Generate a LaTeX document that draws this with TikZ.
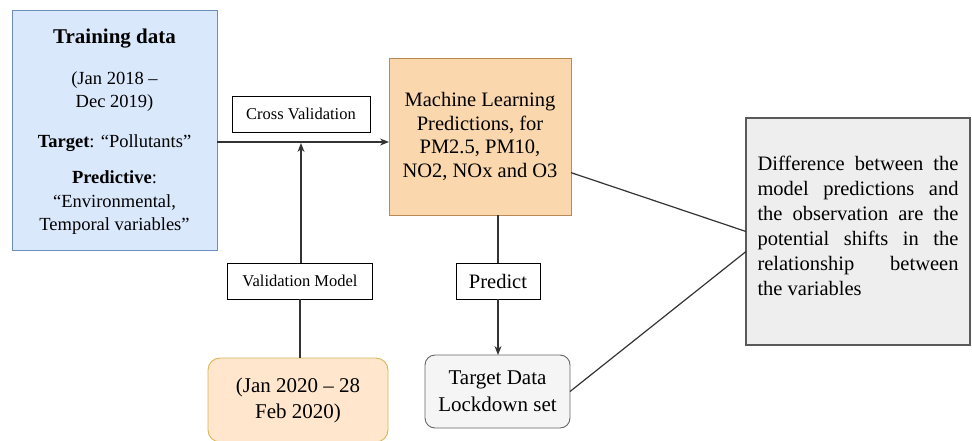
\documentclass[tikz,border=0pt]{standalone}
\usepackage{fontspec}
\setmainfont{Liberation Serif}
\usetikzlibrary{arrows.meta,calc}
\definecolor{trainfill}{HTML}{DAE8FC}
\definecolor{traindraw}{HTML}{6C8EBF}
\definecolor{mlfill}{HTML}{FAD7AC}
\definecolor{mldraw}{HTML}{B98A55}
\definecolor{datefill}{HTML}{FFE6CC}
\definecolor{datedraw}{HTML}{D6B656}
\definecolor{tgtfill}{HTML}{F5F5F5}
\definecolor{tgtdraw}{HTML}{666666}
\definecolor{resfill}{HTML}{EEEEEE}
\definecolor{resdraw}{HTML}{5A5A5A}
\definecolor{linec}{HTML}{333333}
\begin{document}
\begin{tikzpicture}[x=1pt,y=-1pt,
  base/.style={inner sep=0pt, outer sep=0pt, align=center},
  trainbox/.style={base, draw=traindraw, fill=trainfill, line width=0.9pt, minimum width=205pt, minimum height=240pt},
  mlbox/.style={base, draw=mldraw, fill=mlfill, line width=0.9pt, minimum width=182pt, minimum height=157pt},
  datebox/.style={base, draw=datedraw, fill=datefill, line width=0.9pt, rounded corners=12pt, minimum width=180pt, minimum height=84pt},
  tgtbox/.style={base, draw=tgtdraw, fill=tgtfill, line width=0.9pt, rounded corners=10pt, minimum width=145pt, minimum height=73pt},
  resbox/.style={base, draw=resdraw, fill=resfill, line width=1.3pt, minimum width=224pt, minimum height=227pt},
  lblbox/.style={base, draw=black, fill=white, line width=0.8pt, minimum height=36pt},
  conn/.style={draw=linec, line width=1.2pt},
  arr/.style={conn, -{Stealth[length=9pt,width=7pt]}}
]
\useasboundingbox (0,0) rectangle (972,440);

% boxes
\node[trainbox] (train) at (114.5,130) {};
\node[base, font=\fontsize{18.5}{23.5}\selectfont] (traintext) at (114.5,132) {%
  {\fontsize{21}{23.5}\selectfont\bfseries Training data}\\[17pt]
  (Jan 2018 --\\
  Dec 2019)\\[16pt]
  \textbf{Target}: ``Pollutants''\\[13pt]
  \textbf{Predictive}:\\
  ``Environmental,\\
  Temporal variables''};

\node[mlbox, font=\fontsize{20.5}{23.5}\selectfont] (ml) at (480,136.5)
  {Machine Learning\\Predictions, for\\PM2.5, PM10,\\NO2, NOx and O3};

\node[lblbox, minimum width=138pt, font=\fontsize{16.5}{20}\selectfont] (cv) at (301,114) {Cross Validation};
\node[lblbox, minimum width=145pt, font=\fontsize{16.5}{20}\selectfont] (vm) at (300,281) {Validation Model};
\node[datebox, font=\fontsize{21}{26}\selectfont] (date) at (298,400) {(Jan 2020 -- 28\\Feb 2020)};

\node[lblbox, minimum width=84pt, font=\fontsize{20.5}{24}\selectfont] (pred) at (498,281) {Predict};
\node[tgtbox, font=\fontsize{21}{27}\selectfont] (tgt) at (497.5,391.5) {Target Data\\Lockdown set};

\node[resbox] (res) at (858,231.5) {};
\node[base, text width=201pt, align=justify, font=\fontsize{20.5}{25}\selectfont] (restext) at ([yshift=6pt]res.center)
  {Difference between the\linebreak
   model predictions and\linebreak
   the observation are the\linebreak
   potential shifts in the\linebreak
   relationship\hfill between\linebreak
   the variables};

% connectors
\coordinate (j) at (301,142);
\draw[arr] (train.east |- j) -- (ml.west |- j);
\draw[arr] (vm.north -| j) -- ([yshift=-1pt]j);
\draw[conn] (date.north -| vm) -- (vm.south);
\draw[conn] (ml.south -| pred) -- (pred.north);
\draw[arr] (pred.south) -- (tgt.north -| pred);
\draw[conn] ($(ml.north east)!0.73!(ml.south east)$) -- (res.west);
\draw[conn] (tgt.east) -- ($(res.west)+(0,20)$);
\end{tikzpicture}
\end{document}
